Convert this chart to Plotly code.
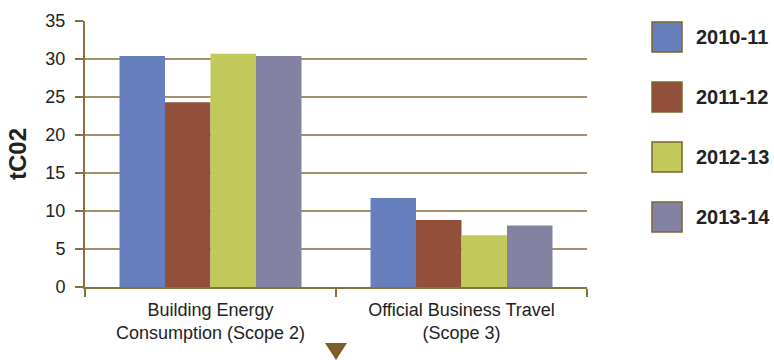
import plotly.graph_objects as go

categories = ["Building Energy<br>Consumption (Scope 2)", "Official Business Travel<br>(Scope 3)"]
series_names = ["2010-11", "2011-12", "2012-13", "2013-14"]
values_2010_11 = [30.4, 11.7]
values_2011_12 = [24.3, 8.8]
values_2012_13 = [30.7, 6.8]
values_2013_14 = [30.4, 8.1]
series_values = [values_2010_11, values_2011_12, values_2012_13, values_2013_14]
colors = ["#687fbe", "#92503a", "#c1c95b", "#8382a2"]
y_ticks = [0, 5, 10, 15, 20, 25, 30, 35]

W, H = 774, 360
L, R, T, B = 85, 187, 21, 73
PW, PH = W - L - R, H - T - B


def px_x(px):
    return (px - L) / PW


def px_y(py):
    return (H - B - py) / PH


fig = go.Figure()
for name, vals, col in zip(series_names, series_values, colors):
    fig.add_trace(go.Bar(x=categories, y=vals, name=name, marker_color=col,
                         marker_line_width=0, showlegend=False))

axis_col = "#8a703f"
grid_col = "#a38f69"

fig.update_layout(
    width=W, height=H,
    margin=dict(l=L, r=R, t=T, b=B),
    paper_bgcolor="white", plot_bgcolor="white",
    barmode="group", bargap=0.275, bargroupgap=0,
    font=dict(family="Liberation Sans, Arial, sans-serif", color="#222222"),
    xaxis=dict(showgrid=False, showline=True, linecolor=axis_col, linewidth=2,
               ticks="outside", tickson="boundaries", ticklen=8, tickcolor=axis_col, tickwidth=2,
               ticklabelstandoff=5,
               tickfont=dict(size=18, color="#222222")),
    yaxis=dict(range=[0, 35], tickvals=y_ticks, showgrid=True, gridcolor=grid_col, gridwidth=2,
               zeroline=False, showline=True, linecolor=axis_col, linewidth=2,
               ticks="outside", ticklen=8, tickcolor=axis_col, tickwidth=2,
               ticklabelstandoff=6,
               tickfont=dict(size=18, color="#222222"),
               title=dict(text="<b>tC02</b>", font=dict(size=24, color="#222222"), standoff=12)),
)

# custom legend
legend_centers = [37, 97, 157, 217]
shapes = []
annotations = []
for name, col, cy in zip(series_names, colors, legend_centers):
    shapes.append(dict(type="rect", xref="paper", yref="paper",
                       x0=px_x(652), x1=px_x(682), y0=px_y(cy + 15), y1=px_y(cy - 15),
                       fillcolor=col, line=dict(color="#7a6530", width=1.5)))
    annotations.append(dict(xref="paper", yref="paper", x=px_x(694), y=px_y(cy),
                            xanchor="left", yanchor="middle", showarrow=False,
                            text="<b>" + name + "</b>", font=dict(size=20, color="#222222")))

# small downward triangle marker below the chart
shapes.append(dict(type="path", xref="paper", yref="paper",
                   path="M {} {} L {} {} L {} {} Z".format(px_x(325), px_y(343), px_x(347), px_y(343),
                                                          px_x(336), px_y(360)),
                   fillcolor="#7b5e2a", line=dict(width=0)))

fig.update_layout(shapes=shapes, annotations=annotations)
fig.write_html("out.html")
